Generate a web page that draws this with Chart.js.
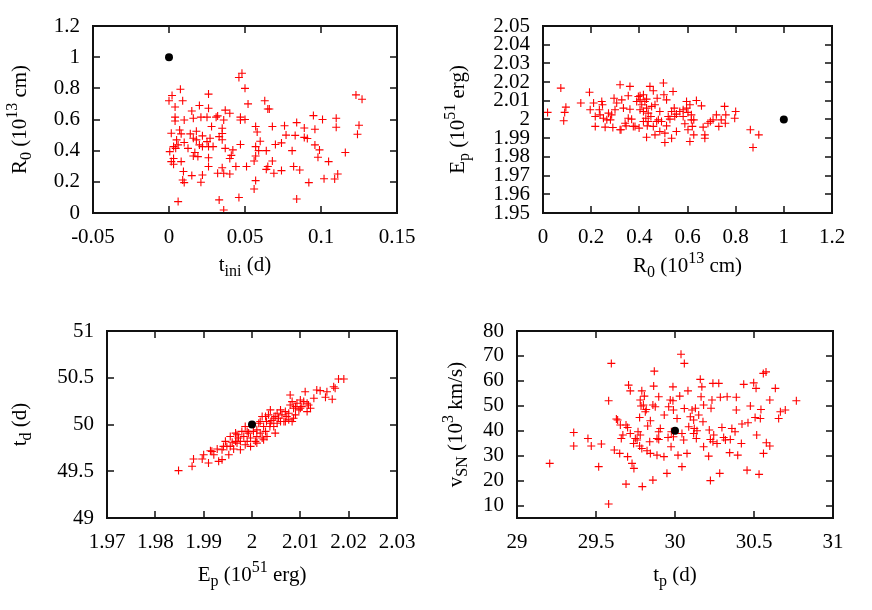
<!DOCTYPE html>
<html><head><meta charset="utf-8">
<script src="https://cdn.jsdelivr.net/npm/chart.js@4.4.1/dist/chart.umd.min.js"></script>
<style>
html,body{margin:0;padding:0;background:#fff;width:872px;height:610px;overflow:hidden}
canvas{position:absolute}
</style></head><body>
<canvas id="c1" width="436" height="300" style="left:0;top:0"></canvas>
<canvas id="c2" width="436" height="300" style="left:436px;top:0"></canvas>
<canvas id="c3" width="436" height="310" style="left:0;top:300px"></canvas>
<canvas id="c4" width="436" height="310" style="left:436px;top:300px"></canvas>
<script>
// ---------- data ----------
// Panel 1: t_ini (d) vs R0 (1e13 cm)
const tIni1 = [0.046,0.048,0.05,0.0075,0.002,0.0,0.026,0.009,0.004,0.02,
0.026,0.052,0.063,0.065,0.066,0.015,0.123,0.127,0.095,0.101,
0.11,0.11,0.125,0.124,0.084,0.089,0.096,0.076,0.068,0.057,
0.058,0.06,0.077,0.083,0.089,0.091,0.096,0.099,0.116,0.098,
0.105,0.081,0.074,0.07,0.064,0.057,0.059,0.057,0.056,0.068,
0.065,0.064,0.069,0.074,0.082,0.086,0.092,0.102,0.109,0.111,
0.057,0.056,0.084,0.046,0.051,0.044,0.047,0.041,0.042,0.040,
0.047,0.05,0.047,0.04,0.037,0.036,0.032,0.031,0.025,0.021,
0.016,0.01,0.004,0.004,0.028,0.035,0.035,0.018,0.007,0.0015,
0.014,0.022,0.027,0.033,0.035,0.025,0.01,0.006,0.003,0.0005,
0.0044,0.020,0.022,0.026,0.029,0.037,0.0125,0.017,0.016,0.019,
0.026,0.003,0.0015,0.003,0.008,0.026,0.0095,0.015,0.022,0.032,
0.036,0.04,0.035,0.009,0.01,0.021,0.006,0.033,0.036,0.005,
0.008,0.016,0.018];
const R0_1 = [0.87,0.897,0.80,0.794,0.754,0.72,0.763,0.72,0.68,0.69,
0.672,0.70,0.72,0.667,0.667,0.655,0.758,0.73,0.625,0.60,
0.608,0.55,0.563,0.505,0.58,0.545,0.537,0.56,0.555,0.555,
0.52,0.46,0.50,0.498,0.485,0.478,0.437,0.405,0.388,0.358,
0.33,0.40,0.45,0.44,0.40,0.426,0.40,0.366,0.334,0.334,
0.298,0.28,0.255,0.272,0.298,0.276,0.195,0.22,0.218,0.25,
0.208,0.154,0.09,0.099,0.298,0.298,0.44,0.37,0.405,0.35,
0.597,0.60,0.615,0.64,0.66,0.597,0.623,0.615,0.615,0.615,
0.608,0.597,0.615,0.59,0.555,0.544,0.51,0.525,0.533,0.512,
0.508,0.495,0.48,0.49,0.47,0.458,0.452,0.437,0.426,0.394,
0.415,0.437,0.426,0.426,0.426,0.415,0.415,0.388,0.366,0.362,
0.355,0.35,0.33,0.313,0.33,0.298,0.266,0.24,0.244,0.255,
0.255,0.25,0.29,0.212,0.195,0.197,0.073,0.084,0.019,0.469,
0.508,0.48,0.469];

// Panel 2: R0 vs Ep (1e51 erg)
const R0_2 = [0.019,0.074,0.095,0.09,0.086,0.157,0.193,0.196,0.21,0.217,
0.217,0.244,0.247,0.251,0.258,0.272,0.28,0.285,0.295,0.29,
0.32,0.324,0.327,0.334,0.345,0.354,0.361,0.361,0.368,0.382,
0.396,0.403,0.399,0.41,0.417,0.423,0.43,0.427,0.433,0.444,
0.448,0.458,0.465,0.43,0.474,0.479,0.485,0.5,0.502,0.513,
0.506,0.506,0.52,0.534,0.54,0.545,0.554,0.554,0.568,0.596,
0.596,0.602,0.61,0.616,0.626,0.626,0.637,0.658,0.665,0.672,
0.672,0.685,0.695,0.72,0.73,0.754,0.757,0.759,0.796,0.8,
0.861,0.896,0.872,0.306,0.389,0.403,0.437,0.451,0.465,0.472,
0.492,0.513,0.527,0.534,0.547,0.582,0.589,0.602,0.616,0.62,
0.437,0.417,0.375,0.354,0.341,0.265,0.237,0.234,0.299,0.417,
0.403,0.43,0.32,0.582,0.706,0.74,0.61,0.458,0.485];
const Ep_2 = [2.0038,2.0168,2.0066,2.0038,1.9993,2.0088,2.0146,2.0052,2.0088,2.0016,
1.9963,2.0096,2.0079,2.0007,1.9959,2.0034,1.9998,2.0025,2.0114,1.9957,
2.0186,1.9945,2.0105,2.0061,1.9966,2.0127,2.0177,2.0055,2.0002,1.9963,
2.0123,2.0105,1.9954,2.0079,2.0043,2.0096,2.0061,2.0007,1.9966,2.0177,
2.0016,2.0154,1.9918,1.9905,2.0114,1.9998,2.0043,2.0195,2.0132,2.0105,
1.9927,1.9877,2.0016,1.99,2.015,2.0061,1.9936,2.0029,2.0043,2.0096,
2.0061,1.9945,1.9882,2.0025,1.9998,1.9918,2.0102,2.0073,1.9959,1.9918,
1.99,1.998,1.9989,2.0025,1.9963,2.007,1.998,2.0025,2.0007,2.0043,
1.9945,1.9918,1.985,2.0088,2.0096,2.0052,2.0034,2.007,2.0079,1.9989,
1.9989,1.9966,2.0002,2.0043,2.0016,2.0016,1.9977,2.0038,1.9998,1.9963,
1.9989,1.9989,1.9963,2.0007,1.998,1.9998,2.0025,2.0052,2.0052,2.0132,
2.0127,2.0109,1.9945,2.0052,1.9998,1.9998,2.0079,1.9963,1.9936];

// Panel 3: Ep vs t_d (d)
const Ep_3 = [1.9848,1.9876,1.9879,1.9897,1.99,1.991,1.9914,1.9917,1.9928,1.9931,
1.9938,1.9938,1.9945,1.9948,1.9952,1.9955,1.9959,1.9962,1.9966,1.9969,
1.9972,1.9976,1.9979,1.9983,1.9986,1.999,1.9993,1.9997,2.0007,2.001,
2.001,2.0014,2.0017,2.0021,2.0021,2.0024,2.0028,2.003,2.0034,2.0037,
2.0038,2.0041,2.0045,2.0048,2.0052,2.0055,2.0059,2.0062,2.0066,2.0069,
2.0072,2.0076,2.0079,2.0079,2.0083,2.0083,2.0086,2.009,2.0093,2.0097,
2.01,2.0103,2.0107,2.011,2.0114,2.0117,2.0121,2.0128,2.0134,2.0141,
2.0152,2.0155,2.0166,2.0169,2.0172,2.0179,2.019,2.0052,2.0031,2.0024,
2.0003,2.0059,2.0048,2.01,2.009,2.0114,1.9955,1.9969,1.999,2.0017,
2.0038,2.0069,2.0076,1.9921,1.9941,1.9986,2.0028,2.0045,2.0086,1.9997,
2.001,1.9976,1.9966];
const td_3 = [49.507,49.553,49.631,49.631,49.677,49.589,49.72,49.713,49.738,49.606,
49.624,49.73,49.82,49.766,49.677,49.872,49.81,49.738,49.908,49.801,
49.855,49.73,49.926,49.872,49.784,49.82,49.908,49.855,49.82,49.943,
49.872,50.014,49.908,50.085,49.855,49.979,49.926,50.032,50.103,49.979,
50.156,50.043,49.979,49.908,50.121,50.067,50.156,50.103,50.032,50.138,
50.085,50.121,50.316,50.209,50.245,50.032,50.174,50.103,50.227,50.156,
50.262,50.191,50.245,50.351,50.138,50.209,50.174,50.28,50.369,50.362,
50.291,50.351,50.27,50.404,50.387,50.486,50.486,50.014,49.872,49.837,
49.926,50.032,50.085,50.174,50.191,50.227,49.766,49.89,49.926,50.032,
50.014,50.032,50.05,49.677,49.766,49.979,50.085,50.067,50.067,49.766,
49.801,49.82,49.82];

// Panel 4: t_p (d) vs v_SN (1e3 km/s)
const tp_4 = [29.207,29.359,29.359,29.449,29.47,29.534,29.517,29.58,29.597,29.58,
29.629,29.637,29.616,29.65,29.654,29.66,29.67,29.69,29.69,29.70,
29.70,29.706,29.717,29.717,29.728,29.74,29.749,29.76,29.766,29.776,
29.776,29.78,29.785,29.79,29.79,29.793,29.80,29.806,29.812,29.818,
29.823,29.827,29.84,29.844,29.86,29.865,29.869,29.875,29.86,29.886,
29.897,29.897,29.907,29.93,29.932,29.949,29.956,29.96,29.97,29.975,
29.977,29.987,29.987,29.99,30.013,30.019,30.03,30.038,30.044,30.044,
30.055,30.059,30.059,30.076,30.082,30.087,30.097,30.108,30.118,30.122,
30.129,30.135,30.139,30.15,30.16,30.165,30.17,30.177,30.181,30.181,
30.213,30.217,30.224,30.224,30.228,30.234,30.24,30.24,30.245,30.266,
30.277,30.283,30.287,30.297,30.308,30.33,30.346,30.35,30.36,30.38,
30.388,30.388,30.397,30.42,30.424,30.435,30.456,30.462,30.477,30.498,
30.507,30.513,30.517,30.532,30.54,30.544,30.559,30.56,30.576,30.578,
30.6,30.6,30.635,30.656,30.667,30.698,30.768,29.897,29.78,29.738,
29.844,30.118,30.319,29.886,29.99];
const vSN_4 = [26.9,39.3,33.9,36.9,33.9,34.7,25.6,52.0,67.0,10.6,
44.7,44.3,32.3,30.9,42.3,36.9,38.3,18.6,42.3,41.3,
29.6,58.3,56.0,38.9,26.9,24.9,36.9,36.3,39.6,45.3,
33.9,52.3,49.9,56.0,32.9,17.6,50.3,53.9,47.6,48.5,
32.0,41.9,35.6,30.9,50.3,57.9,63.9,49.6,20.2,30.2,
53.6,36.5,40.9,29.6,46.3,22.9,37.3,49.6,52.3,33.6,
39.6,57.6,52.0,48.3,44.9,30.2,53.9,70.7,38.9,25.6,
36.3,67.0,48.9,30.9,56.0,41.6,45.6,48.3,44.3,40.9,
49.0,36.9,40.0,46.3,60.6,53.6,57.6,43.6,33.6,50.3,
29.8,40.3,36.5,20.0,49.0,52.3,59.0,35.6,38.3,34.9,
59.0,22.9,53.4,41.3,37.3,53.6,31.2,36.5,40.9,39.6,
53.4,48.3,30.2,34.9,42.7,58.6,24.2,43.2,49.9,59.2,
45.3,57.0,38.3,22.5,44.9,48.5,63.0,30.9,63.6,35.2,
33.9,52.3,57.0,44.9,47.6,48.3,52.0,39.6,38.3,34.9,
44.0,38.9,36.3,36.9,37.6];

// true (input) values, black dots
const trueTini = 0, trueR0 = 1, trueEp = 2, trueTd = 50, trueTp = 30, trueVsn = 40;

// tick values
const ticksX1 = [-0.05,0,0.05,0.1,0.15];
const ticksY1 = [0,0.2,0.4,0.6,0.8,1,1.2];
const ticksX2 = [0,0.2,0.4,0.6,0.8,1,1.2];
const ticksY2 = [1.95,1.96,1.97,1.98,1.99,2,2.01,2.02,2.03,2.04,2.05];
const ticksX3 = [1.97,1.98,1.99,2,2.01,2.02,2.03];
const ticksY3 = [49,49.5,50,50.5,51];
const ticksX4 = [29,29.5,30,30.5,31];
const ticksY4 = [10,20,30,40,50,60,70,80];

// axis titles: [text, kind]
const tiniTitle = [['t','n'],['ini','sub'],[' (d)','n']];
const r0Title = [['R','n'],['0','sub'],[' (10','n'],['13','sup'],[' cm)','n']];
const epTitle = [['E','n'],['p','sub'],[' (10','n'],['51','sup'],[' erg)','n']];
const tdTitle = [['t','n'],['d','sub'],[' (d)','n']];
const tpTitle = [['t','n'],['p','sub'],[' (d)','n']];
const vsnTitle = [['v','n'],['SN','sub'],[' (10','n'],['3','sup'],[' km/s)','n']];

// ---------- drawing ----------
const FAM = "'Liberation Serif','Times New Roman',serif";
const fmt = v => String(+(+v).toFixed(3));

function drawRich(ctx, parts, cx, cy, rot) {
  const fonts = {n: '21px ' + FAM, sub: '16px ' + FAM, sup: '16px ' + FAM};
  const dy = {n: 0, sub: 5, sup: -9};
  let w = 0;
  parts.forEach(([t, k]) => { ctx.font = fonts[k]; w += ctx.measureText(t).width; });
  ctx.save();
  ctx.translate(cx, cy);
  if (rot) ctx.rotate(-Math.PI / 2);
  ctx.textAlign = 'left';
  ctx.textBaseline = 'alphabetic';
  ctx.fillStyle = '#000';
  let x = -w / 2;
  parts.forEach(([t, k]) => { ctx.font = fonts[k]; ctx.fillText(t, x, dy[k]); x += ctx.measureText(t).width; });
  ctx.restore();
}

const frameTitles = {
  id: 'frameTitles',
  afterDraw(chart, args, opts) {
    const ctx = chart.ctx, a = chart.chartArea;
    const xs = chart.scales.x, ys = chart.scales.y;
    ctx.save();
    ctx.strokeStyle = '#111';
    ctx.lineWidth = 1.5;
    ctx.beginPath();
    xs.ticks.forEach(t => {
      const p = Math.round(xs.getPixelForValue(t.value));
      ctx.moveTo(p, a.bottom); ctx.lineTo(p, a.bottom - 7);
      ctx.moveTo(p, a.top); ctx.lineTo(p, a.top + 7);
    });
    ys.ticks.forEach(t => {
      const p = Math.round(ys.getPixelForValue(t.value));
      ctx.moveTo(a.left, p); ctx.lineTo(a.left + 7, p);
      ctx.moveTo(a.right, p); ctx.lineTo(a.right - 7, p);
    });
    ctx.stroke();
    ctx.lineWidth = 2;
    ctx.strokeRect(a.left, a.top, a.right - a.left, a.bottom - a.top);
    ctx.restore();
    drawRich(ctx, opts.xTitle, (a.left + a.right) / 2, opts.xBase, false);
    drawRich(ctx, opts.yTitle, opts.yBase, (a.top + a.bottom) / 2, true);
  }
};

function makeChart(id, o) {
  const tickFont = {family: FAM, size: 21};
  new Chart(document.getElementById(id), {
    type: 'scatter',
    data: {datasets: [
      {data: [{x: o.truth[0], y: o.truth[1]}], pointStyle: 'circle', pointRadius: 4,
       backgroundColor: '#000', borderColor: '#000', borderWidth: 0},
      {data: o.xs.map((x, i) => ({x: x, y: o.ys[i]})), pointStyle: 'cross', pointRadius: 4,
       borderColor: '#ff0000', backgroundColor: '#ff0000', borderWidth: 1.1}
    ]},
    options: {
      responsive: false, animation: false, devicePixelRatio: 1,
      events: [],
      layout: {padding: {top: o.pt, right: o.pr, left: 0, bottom: 0}},
      plugins: {legend: {display: false}, tooltip: {enabled: false},
        frameTitles: {xTitle: o.xTitle, yTitle: o.yTitle, xBase: o.xBase, yBase: o.yBase}},
      scales: {
        x: {type: 'linear', min: o.xr[0], max: o.xr[1],
          afterBuildTicks: s => { s.ticks = o.xt.map(v => ({value: v})); },
          afterFit: s => { s.height = o.xh; },
          grid: {display: false, drawTicks: false}, border: {display: false},
          ticks: {autoSkip: false, maxRotation: 0, padding: 12, color: '#000', font: tickFont, callback: v => fmt(v)}},
        y: {type: 'linear', min: o.yr[0], max: o.yr[1],
          afterBuildTicks: s => { s.ticks = o.yt.map(v => ({value: v})); },
          afterFit: s => { s.width = o.yw; },
          grid: {display: false, drawTicks: false}, border: {display: false},
          ticks: {autoSkip: false, padding: 13, color: '#000', font: tickFont, callback: v => fmt(v)}}
      }
    },
    plugins: [frameTitles]
  });
}

makeChart('c1', {xs: tIni1, ys: R0_1, truth: [trueTini, trueR0], xr: [-0.05, 0.15], yr: [0, 1.2],
  xt: ticksX1, yt: ticksY1, pt: 26, pr: 39, yw: 93, xh: 87,
  xTitle: tiniTitle, yTitle: r0Title, xBase: 271, yBase: 26});
makeChart('c2', {xs: R0_2, ys: Ep_2, truth: [trueR0, trueEp], xr: [0, 1.2], yr: [1.95, 2.05],
  xt: ticksX2, yt: ticksY2, pt: 26, pr: 40, yw: 107, xh: 87,
  xTitle: r0Title, yTitle: epTitle, xBase: 272, yBase: 28});
makeChart('c3', {xs: Ep_3, ys: td_3, truth: [trueEp, trueTd], xr: [1.97, 2.03], yr: [49, 51],
  xt: ticksX3, yt: ticksY3, pt: 31, pr: 39, yw: 107, xh: 92,
  xTitle: epTitle, yTitle: tdTitle, xBase: 281, yBase: 26});
makeChart('c4', {xs: tp_4, ys: vSN_4, truth: [trueTp, trueVsn], xr: [29, 31], yr: [5, 80],
  xt: ticksX4, yt: ticksY4, pt: 31, pr: 39, yw: 81, xh: 92,
  xTitle: tpTitle, yTitle: vsnTitle, xBase: 281, yBase: 26});
</script>
</body></html>
